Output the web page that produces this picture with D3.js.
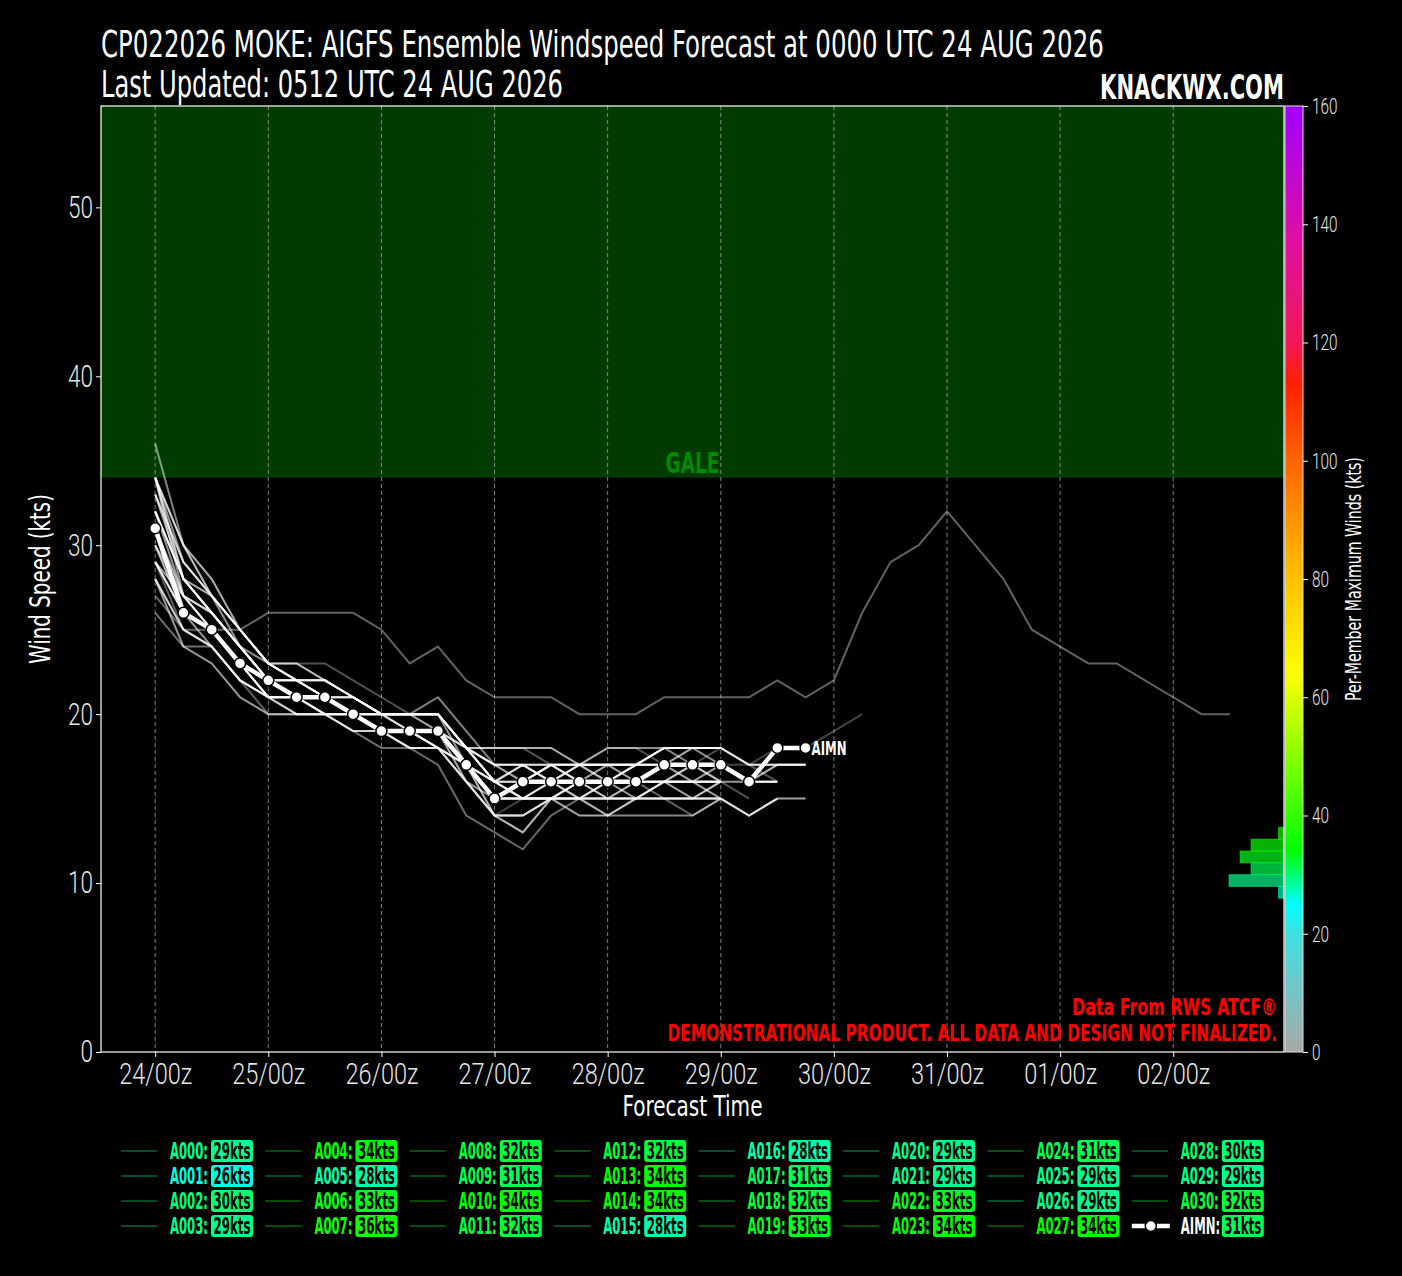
<!DOCTYPE html>
<html>
<head>
<script src="https://cdn.jsdelivr.net/npm/d3@7"></script>
<style>
  body { margin: 0; background: #000; }
  svg text { font-family: "Liberation Sans Narrow", "DejaVu Sans Condensed", "Arial Narrow", sans-serif; }
  .light { font-family: Roboto, "DejaVu Sans Condensed", sans-serif; font-weight: 300; }
</style>
</head>
<body>
<svg id="chart" width="1402" height="1276"></svg>
<script>
// ---- chart data ----
const titleLine1 = "CP022026 MOKE: AIGFS Ensemble Windspeed Forecast at 0000 UTC 24 AUG 2026";
const titleLine2 = "Last Updated: 0512 UTC 24 AUG 2026";
const stepHours = 6;
const dayTickHours = [0, 24, 48, 72, 96, 120, 144, 168, 192, 216];
const dayTickLabels = ["24/00z", "25/00z", "26/00z", "27/00z", "28/00z", "29/00z", "30/00z", "31/00z", "01/00z", "02/00z"];
const windTicks = [0, 10, 20, 30, 40, 50];
const maxWindTicks = [0, 20, 40, 60, 80, 100, 120, 140, 160];
const galeThreshold = 34;

const memberNames = ["A000","A001","A002","A003","A004","A005","A006","A007","A008","A009","A010",
  "A011","A012","A013","A014","A015","A016","A017","A018","A019","A020","A021","A022","A023",
  "A024","A025","A026","A027","A028","A029","A030"];

// 6-hourly winds (kts) from 24/00z
const memberWinds = [
  [29,27,26,24,22,22,21,20,19,19,18,16,14,15,16,15,15,16,17,17,16],
  [26,24,24,22,21,21,20,19,19,18,18,16,14,14,15,15,15,16,16,15,15],
  [30,27,25,23,22,21,21,20,20,19,19,18,16,16,17,17,17,16,16,16,17,16,16],
  [29,26,25,23,21,20,20,19,19,19,19,17,15,15,15,16,16,16,17,17,18],
  [34,28,26,24,22,22,22,21,20,20,20,18,17,17,17,17,16,16,16,16,16],
  [28,25,24,22,21,21,20,20,19,19,18,17,15,15,15,14,14,15,15,15,15],
  [33,29,27,25,23,23,23,22,21,20,20,18,17,16,16,17,18,18,17,17,16,15],
  [36,30,28,25,23,22,21,21,20,20,21,19,17,16,17,17,16,16,17,18,18],
  [32,28,26,24,22,22,21,20,20,20,20,18,18,18,18,17,17,17,17,17,17,16,17,17],
  [31,27,25,23,22,21,21,20,19,19,19,16,15,15,15,15,15,16,16,15,15,14,15],
  [34,27,26,24,22,21,20,20,19,19,18,17,16,17,16,15,16,17,18,17,16],
  [32,28,26,24,22,21,21,20,19,19,19,17,14,13,15,16,15,15,16,17,17,16,16],
  [27,25,25,25,26,26,26,26,25,23,24,22,21,21,21,20,20,20,21,21,21,21,22,21,22,26,29,30,32,30,28,25,24,23,23,22,21,20,20],
  [34,29,27,24,23,22,22,21,20,20,20,17,15,16,17,16,16,17,18,18,17],
  [34,30,27,25,23,23,22,21,20,20,20,18,17,17,17,17,17,17,18,18,18,17,17,17],
  [28,25,24,22,21,20,20,19,18,18,17,14,13,12,14,15,16,16,15,15,16],
  [28,24,23,21,20,20,20,20,19,18,18,17,15,15,16,16,16,15,15,15,16],
  [31,26,25,23,21,21,21,20,20,19,19,17,16,16,16,16,15,15,16,17,17,17,18,18,19,20],
  [32,28,26,24,22,22,21,20,20,19,19,18,17,17,16,15,15,15,16,16,16],
  [33,29,27,25,23,22,21,21,20,20,20,18,16,15,15,16,17,17,17,16,15,14,15,15],
  [29,26,24,22,21,20,20,19,19,18,18,16,14,14,15,15,15,15,15,15,15],
  [29,27,25,23,21,21,21,20,19,19,19,16,14,14,15,16,16,16,17,17,17],
  [33,28,27,25,23,22,22,21,20,20,19,17,16,15,16,17,17,17,18,18,18],
  [34,30,28,25,23,22,22,21,20,19,19,18,18,18,17,16,16,16,17,18,18,17,16],
  [31,27,25,23,22,21,21,20,19,19,18,17,15,15,15,15,14,14,14,14,15,14,15],
  [29,26,25,23,21,21,20,20,19,19,19,17,15,16,17,16,16,16,16,16,16],
  [29,25,24,22,20,20,20,20,19,18,18,16,15,15,15,15,14,15,15,14,15],
  [34,28,26,24,22,21,21,20,19,19,19,17,16,16,16,17,18,18,18,18,18,17,17,17],
  [30,26,25,23,21,21,21,20,20,20,20,18,16,17,16,16,16,17,17,17,17],
  [29,26,24,22,21,20,20,19,19,19,18,16,14,14,15,15,15,15,16,16,16],
  [32,27,26,24,22,22,21,21,20,20,20,18,16,15,15,15,16,16,16,16,16,16,16]
];

const meanName = "AIMN";
const meanWinds = [31,26,25,23,22,21,21,20,19,19,19,17,15,16,16,16,16,16,17,17,17,16,18,18];

const colorStops = [0, 20, 25, 34, 64, 83, 100, 113, 120, 137, 160];
const colorValues = ["#a8a8a8", "#40e0e0", "#00ffff", "#00ff00", "#ffff00", "#ffb400",
  "#ff6400", "#ff2000", "#f01858", "#e010a0", "#a000ff"];

// ---- layout ----
const svg = d3.select("#chart");
const pL = 101, pR = 1284, pT = 106, pB = 1052;

const x = d3.scaleLinear().domain([-11.5, 239.5]).range([pL, pR]);
const y = d3.scaleLinear().domain([0, 56]).range([pB, pT]);
const cb = d3.scaleLinear().domain([0, 160]).range([pB, pT]);
const color = d3.scaleLinear().domain(colorStops).range(colorValues).clamp(true);

svg.append("rect").attr("width", 1402).attr("height", 1276).attr("fill", "#000");

// the fonts here are wider than the original condensed face, so texts get squeezed
// horizontally with a transform
function squeeze(el, k) {
  const s = d3.select(el);
  const x0 = +s.attr("x") || 0;
  const prev = s.attr("transform") || "";
  s.attr("x", 0).attr("transform", `${prev} translate(${x0},0) scale(${k},1)`);
}
function fit(sel, w) {
  sel.each(function () { squeeze(this, w / this.getComputedTextLength()); });
}
// same factor for a whole group, taken from the first text
function condense(sel, w) {
  const k = w / sel.node().getComputedTextLength();
  sel.each(function () { squeeze(this, k); });
}

// gale band
svg.append("rect")
  .attr("x", pL).attr("y", pT)
  .attr("width", pR - pL).attr("height", y(galeThreshold) - pT)
  .attr("fill", "#003c00");

svg.append("text")
  .attr("x", (pL + pR) / 2).attr("y", y(galeThreshold) - 5)
  .attr("text-anchor", "middle")
  .attr("font-size", 28).attr("font-weight", "bold")
  .attr("fill", "#008a00")
  .text("GALE")
  .call(fit, 54);

// vertical grid
svg.append("g").selectAll("line")
  .data(dayTickHours)
  .join("line")
  .attr("x1", d => x(d)).attr("x2", d => x(d))
  .attr("y1", pT).attr("y2", pB)
  .attr("stroke", "#aaa").attr("stroke-width", 1)
  .attr("stroke-dasharray", "4,3").attr("opacity", 0.75);

// members
const line = d3.line()
  .x((d, i) => x(i * stepHours))
  .y(d => y(d));

svg.append("g").selectAll("path")
  .data(memberWinds)
  .join("path")
  .attr("d", line)
  .attr("fill", "none")
  .attr("stroke", "#fff")
  .attr("stroke-width", 2)
  .attr("stroke-opacity", (d, i) => 0.25 + 0.5 * ((i * 11) % 31) / 30);

// histogram of per-member maxima (on colorbar scale)
const maxima = memberWinds.map(d => d3.max(d)).concat([d3.max(meanWinds)]);
const bins = d3.bin().domain([0, 160]).thresholds(d3.range(0, 161, 2))(maxima)
  .filter(b => b.length > 0);
const hx = d3.scaleLinear().domain([0, 10]).range([0, 55]);

svg.append("g").selectAll("rect")
  .data(bins)
  .join("rect")
  .attr("x", d => pR - hx(d.length))
  .attr("y", d => cb(d.x1))
  .attr("width", d => hx(d.length))
  .attr("height", d => cb(d.x0) - cb(d.x1))
  .attr("fill", d => color((d.x0 + d.x1) / 2))
  .attr("fill-opacity", 0.7)
  .attr("stroke", d => color((d.x0 + d.x1) / 2))
  .attr("stroke-opacity", 0.5)
  .attr("stroke-width", 1);

// ensemble mean
svg.append("path")
  .datum(meanWinds)
  .attr("d", line)
  .attr("fill", "none")
  .attr("stroke", "#fff")
  .attr("stroke-width", 4.5);

svg.append("g").selectAll("circle")
  .data(meanWinds)
  .join("circle")
  .attr("cx", (d, i) => x(i * stepHours))
  .attr("cy", d => y(d))
  .attr("r", 5.5)
  .attr("fill", "#fff")
  .attr("stroke", "#000")
  .attr("stroke-width", 1.5);

svg.append("text")
  .attr("x", x((meanWinds.length - 1) * stepHours) + 6)
  .attr("y", y(meanWinds[meanWinds.length - 1]))
  .attr("dy", "0.36em")
  .attr("font-size", 20).attr("font-weight", "bold")
  .attr("fill", "#fff")
  .text(meanName)
  .call(fit, 35);

// plot frame
svg.append("rect")
  .attr("x", pL).attr("y", pT)
  .attr("width", pR - pL).attr("height", pB - pT)
  .attr("fill", "none").attr("stroke", "#fff").attr("stroke-width", 1.2);

// axes
const yAxis = svg.append("g")
  .attr("transform", `translate(${pL},0)`)
  .call(d3.axisLeft(y).tickValues(windTicks).tickSize(5));
const xAxis = svg.append("g")
  .attr("transform", `translate(0,${pB})`)
  .call(d3.axisBottom(x).tickValues(dayTickHours).tickFormat((d, i) => dayTickLabels[i]).tickSize(5));

[yAxis, xAxis].forEach(g => {
  g.select(".domain").remove();
  g.selectAll(".tick line").attr("stroke", "#fff");
  g.selectAll(".tick text").attr("fill", "#e6e6e6").attr("class", "light").attr("font-family", null);
});
yAxis.selectAll(".tick text").attr("font-size", 31).call(condense, 12.5);
xAxis.selectAll(".tick text").attr("font-size", 29).attr("y", 11).call(condense, 73);

svg.append("text")
  .attr("x", (pL + pR) / 2).attr("y", 1116)
  .attr("text-anchor", "middle")
  .attr("font-size", 29).attr("fill", "#fff")
  .text("Forecast Time")
  .call(fit, 140);

svg.append("text")
  .attr("transform", `translate(50,${(pT + pB) / 2}) rotate(-90)`)
  .attr("text-anchor", "middle")
  .attr("font-size", 29).attr("fill", "#fff")
  .text("Wind Speed (kts)")
  .call(fit, 170);

// colorbar
const grad = svg.append("defs").append("linearGradient")
  .attr("id", "cbar").attr("x1", 0).attr("y1", 1).attr("x2", 0).attr("y2", 0);
grad.selectAll("stop")
  .data(colorStops)
  .join("stop")
  .attr("offset", d => d / 160)
  .attr("stop-color", (d, i) => colorValues[i]);

svg.append("rect")
  .attr("x", 1285).attr("y", pT)
  .attr("width", 18).attr("height", pB - pT)
  .attr("fill", "url(#cbar)")
  .attr("stroke", "#ddd").attr("stroke-width", 1);

const cAxis = svg.append("g")
  .attr("transform", "translate(1303,0)")
  .call(d3.axisRight(cb).tickValues(maxWindTicks).tickSize(5));
cAxis.select(".domain").remove();
cAxis.selectAll(".tick line").attr("stroke", "#fff");
cAxis.selectAll(".tick text").attr("fill", "#e6e6e6").attr("font-size", 23)
  .attr("class", "light").attr("font-family", null).attr("x", 9)
  .call(condense, 8.5);

svg.append("text")
  .attr("transform", `translate(1361,${(pT + pB) / 2}) rotate(-90)`)
  .attr("text-anchor", "middle")
  .attr("font-size", 21).attr("fill", "#fff")
  .text("Per-Member Maximum Winds (kts)")
  .call(fit, 244);

// titles
svg.append("text")
  .attr("x", pL).attr("y", 57)
  .attr("font-size", 37).attr("fill", "#fff")
  .text(titleLine1)
  .call(fit, 1003);
svg.append("text")
  .attr("x", pL).attr("y", 97)
  .attr("font-size", 37).attr("fill", "#fff")
  .text(titleLine2)
  .call(fit, 462);
svg.append("text")
  .attr("x", pR).attr("y", 99)
  .attr("text-anchor", "end")
  .attr("font-size", 34).attr("font-weight", "bold").attr("fill", "#fff")
  .text("KNACKWX.COM")
  .call(fit, 184);

// disclaimer
svg.append("text")
  .attr("x", 1277).attr("y", 1015)
  .attr("text-anchor", "end")
  .attr("font-size", 23).attr("font-weight", "bold").attr("fill", "#f00")
  .text("Data From RWS ATCF®")
  .call(fit, 205);
svg.append("text")
  .attr("x", 1277).attr("y", 1041)
  .attr("text-anchor", "end")
  .attr("font-size", 23).attr("font-weight", "bold").attr("fill", "#f00")
  .text("DEMONSTRATIONAL PRODUCT. ALL DATA AND DESIGN NOT FINALIZED.")
  .call(fit, 610);

// legend
const entries = memberNames.map((n, i) => ({ name: n, max: d3.max(memberWinds[i]), mean: false }))
  .concat([{ name: meanName, max: d3.max(meanWinds), mean: true }]);

const leg = svg.append("g").selectAll("g")
  .data(entries)
  .join("g")
  .attr("transform", (d, i) => `translate(${121 + Math.floor(i / 4) * 144.4},${1151 + (i % 4) * 25})`);

leg.filter(d => !d.mean).append("line")
  .attr("x1", 0).attr("x2", 36)
  .attr("stroke", d => color(d.max)).attr("stroke-opacity", 0.3).attr("stroke-width", 2);

const meanKey = leg.filter(d => d.mean);
meanKey.append("line")
  .attr("x1", 0).attr("x2", 38)
  .attr("stroke", "#fff").attr("stroke-width", 4.5);
meanKey.append("circle")
  .attr("cx", 19).attr("r", 5.5)
  .attr("fill", "#fff").attr("stroke", "#000").attr("stroke-width", 1.5);

leg.append("text")
  .attr("x", 49).attr("dy", "0.36em")
  .attr("font-size", 23).attr("font-weight", "bold")
  .attr("fill", d => d.mean ? "#fff" : color(d.max))
  .text(d => d.name + ":")
  .call(condense, 38);

leg.append("rect")
  .attr("x", 90).attr("y", -11)
  .attr("width", 42).attr("height", 22).attr("rx", 3)
  .attr("fill", d => color(d.max));

leg.append("text")
  .attr("x", 111).attr("dy", "0.36em")
  .attr("text-anchor", "middle")
  .attr("font-size", 23).attr("font-weight", "bold")
  .attr("fill", "#000")
  .text(d => d.max + "kts")
  .call(condense, 37);
</script>
</body>
</html>
